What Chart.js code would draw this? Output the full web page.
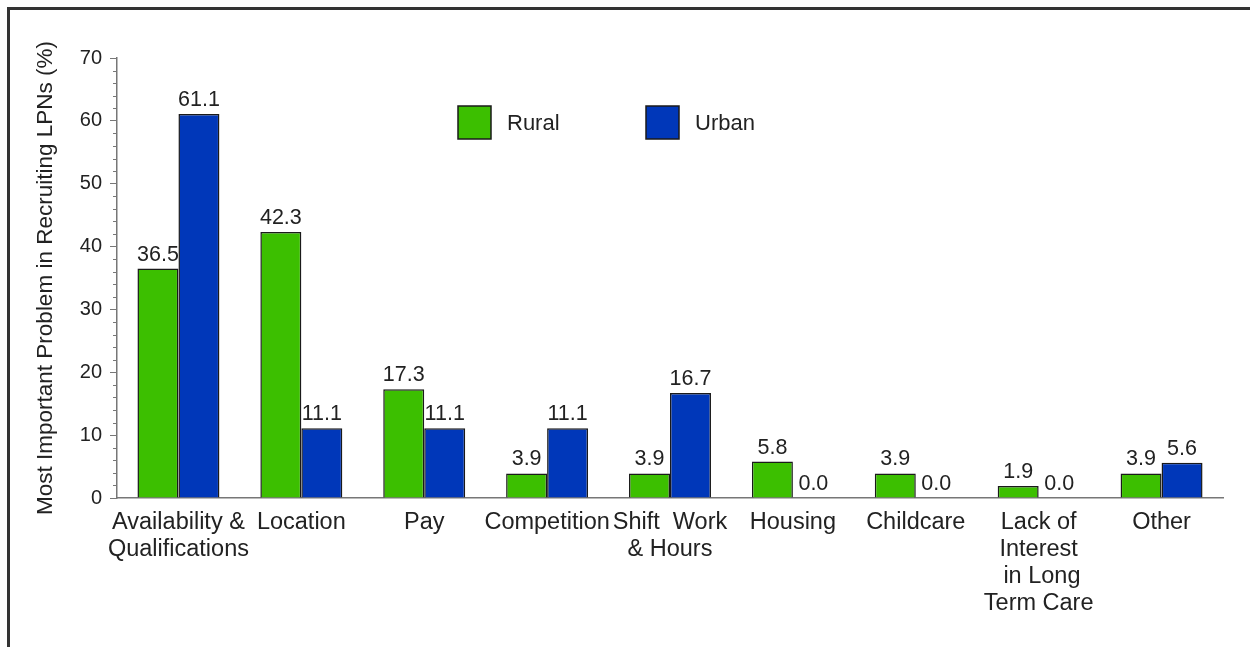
<!DOCTYPE html>
<html>
<head>
<meta charset="utf-8">
<title>Most Important Problem in Recruiting LPNs</title>
<script src="https://cdn.jsdelivr.net/npm/chart.js@4/dist/chart.umd.min.js"></script>
<style>
  html, body { margin: 0; padding: 0; background: #fff; }
  #wrap { width: 1250px; height: 647px; position: relative; }
</style>
</head>
<body>
<div id="wrap"><canvas id="myChart" width="1250" height="647"></canvas></div>
<script>
// Kategorien und Werte
const categories = [
    ['Availability &', 'Qualifications'],
    'Location',
    'Pay',
    'Competition',
    ['Shift  Work', '& Hours'],
    'Housing',
    'Childcare',
    ['Lack of', 'Interest', ' in Long', 'Term Care'],
    'Other'
];
const ruralValues = [36.5, 42.3, 17.3, 3.9, 3.9, 5.8, 3.9, 1.9, 3.9];
const urbanValues = [61.1, 11.1, 11.1, 11.1, 16.7, 0.0, 0.0, 0.0, 5.6];
const seriesNames = ['Rural', 'Urban'];
const yTitle = 'Most Important Problem in Recruiting LPNs (%)';

const FONT = '"Liberation Sans", Arial, Helvetica, sans-serif';
const textColor = '#222';
const axisColor = '#777';

// Rahmen oben und links
const framePlugin = {
    id: 'frame',
    beforeDraw(chart) {
        const c = chart.ctx;
        c.save();
        c.fillStyle = '#fff';
        c.fillRect(0, 0, chart.width, chart.height);
        c.fillStyle = '#333';
        c.fillRect(7, 7, chart.width - 7, 3);
        c.fillRect(7, 7, 3, chart.height - 7);
        c.restore();
    }
};

// kleine Zwischenstriche an der y-Achse (alle 2 %)
const minorTicksPlugin = {
    id: 'minorTicks',
    afterDraw(chart) {
        const y = chart.scales.y;
        const c = chart.ctx;
        const x0 = chart.chartArea.left;
        c.save();
        c.strokeStyle = axisColor;
        c.lineWidth = 1;
        for (let v = 0; v <= y.max; v += 2) {
            if (v % 10 === 0) continue;
            const py = Math.round(y.getPixelForValue(v)) + 0.5;
            c.beginPath();
            c.moveTo(x0 - 4, py);
            c.lineTo(x0, py);
            c.stroke();
        }
        c.restore();
    }
};

// Zahlen über den Balken
const valueLabelPlugin = {
    id: 'valueLabels',
    afterDatasetsDraw(chart) {
        const c = chart.ctx;
        c.save();
        c.font = '21.5px ' + FONT;
        c.fillStyle = textColor;
        c.textAlign = 'center';
        c.textBaseline = 'alphabetic';
        chart.data.datasets.forEach((ds, i) => {
            chart.getDatasetMeta(i).data.forEach((bar, j) => {
                c.fillText(ds.data[j].toFixed(1), bar.x, bar.y - 8);
            });
        });
        c.restore();
    }
};

// Legende innerhalb der Zeichenfläche
const insideLegendPlugin = {
    id: 'insideLegend',
    afterDraw(chart, args, opts) {
        const c = chart.ctx;
        c.save();
        c.font = '22px ' + FONT;
        c.textBaseline = 'middle';
        c.textAlign = 'left';
        chart.data.datasets.forEach((ds, i) => {
            const x = opts.x + i * opts.gap;
            const y = opts.y;
            c.fillStyle = ds.backgroundColor;
            c.fillRect(x, y, opts.box, opts.box);
            c.strokeStyle = ds.borderColor;
            c.lineWidth = 1.5;
            c.strokeRect(x, y, opts.box, opts.box);
            c.fillStyle = textColor;
            c.fillText(ds.label, x + opts.box + 16, y + opts.box / 2 + 1);
        });
        c.restore();
    }
};

const ctx = document.getElementById('myChart').getContext('2d');
const myChart = new Chart(ctx, {
    type: 'bar',
    data: {
        labels: categories,
        datasets: [{
            label: seriesNames[0],
            data: ruralValues,
            backgroundColor: '#3cbf00',
            borderColor: '#1a1a1a',
            borderWidth: 1.5
        }, {
            label: seriesNames[1],
            data: urbanValues,
            backgroundColor: '#0037b9',
            borderColor: '#1a1a1a',
            borderWidth: 1.5
        }]
    },
    options: {
        responsive: false,
        animation: false,
        layout: {
            padding: { left: 14, right: 27, top: 58, bottom: 0 }
        },
        datasets: {
            bar: {
                categoryPercentage: 0.667,
                barPercentage: 1.0
            }
        },
        plugins: {
            legend: { display: false },
            tooltip: { enabled: false },
            insideLegend: { x: 458, y: 106, box: 33, gap: 188 }
        },
        scales: {
            x: {
                grid: { display: false, drawTicks: false },
                border: { display: true, color: axisColor, width: 1.5 },
                ticks: {
                    color: textColor,
                    font: { family: FONT, size: 23.5, lineHeight: 1.15 },
                    padding: 11,
                    maxRotation: 0,
                    autoSkip: false
                },
                afterFit(scale) { scale.height = 647 - 498; }
            },
            y: {
                min: 0,
                max: 70,
                ticks: {
                    stepSize: 10,
                    color: textColor,
                    font: { family: FONT, size: 20 },
                    padding: 8
                },
                grid: {
                    drawOnChartArea: false,
                    tickLength: 7,
                    color: axisColor
                },
                border: { display: true, color: axisColor, width: 1.5 },
                title: {
                    display: true,
                    text: yTitle,
                    color: textColor,
                    font: { family: FONT, size: 22.5 },
                    padding: { top: 18, bottom: 0 }
                },
                afterFit(scale) { scale.width = 117 - 14; }
            }
        }
    },
    plugins: [framePlugin, minorTicksPlugin, valueLabelPlugin, insideLegendPlugin]
});
</script>
</body>
</html>
